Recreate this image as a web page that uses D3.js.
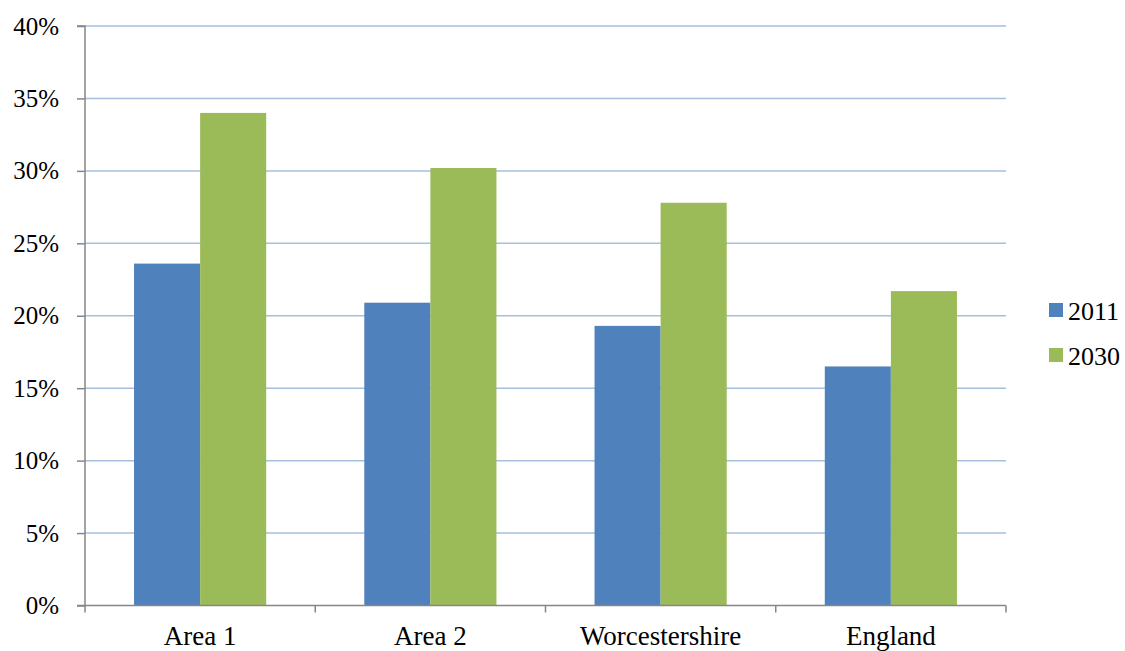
<!DOCTYPE html>
<html>
<head>
<meta charset="utf-8">
<script src="https://cdn.jsdelivr.net/npm/d3@7"></script>
<style>
  html, body { margin: 0; padding: 0; background: #fff; }
  svg text { font-family: "Liberation Serif", "Times New Roman", serif; fill: #000; }
</style>
</head>
<body>
<svg id="chart" width="1125" height="651"></svg>
<script>
// Share of population by area, 2011 vs 2030 projection
const categories = ["Area 1", "Area 2", "Worcestershire", "England"];
const seriesNames = ["2011", "2030"];
const values2011 = [23.6, 20.9, 19.3, 16.5];
const values2030 = [34.0, 30.2, 27.8, 21.7];
const yTicks = [0, 5, 10, 15, 20, 25, 30, 35, 40];

const colors = { "2011": "#4F81BD", "2030": "#9BBB59" };

const svg = d3.select("#chart");
const plotLeft = 85, plotRight = 1006, plotTop = 26, plotBottom = 605.5;

const x = d3.scaleBand().domain(categories).range([plotLeft, plotRight]).paddingInner(0.426).paddingOuter(0.213);
const xs = d3.scaleBand().domain(seriesNames).range([0, x.bandwidth()]);
const y = d3.scaleLinear().domain([0, 40]).range([plotBottom, plotTop]);

// horizontal gridlines
svg.append("g").selectAll("line").data(yTicks.filter(d => d > 0)).join("line")
  .attr("x1", plotLeft).attr("x2", plotRight)
  .attr("y1", d => y(d)).attr("y2", d => y(d))
  .attr("stroke", "#A6BFDC").attr("stroke-width", 1.5);

// bars
const rows = categories.map((c, i) => ({ c, v: { "2011": values2011[i], "2030": values2030[i] } }));
const groups = svg.append("g").selectAll("g").data(rows).join("g")
  .attr("transform", d => `translate(${x(d.c)},0)`);
groups.selectAll("rect").data(d => seriesNames.map(s => ({ s, v: d.v[s] }))).join("rect")
  .attr("x", d => xs(d.s)).attr("width", xs.bandwidth())
  .attr("y", d => y(d.v)).attr("height", d => y(0) - y(d.v))
  .attr("fill", d => colors[d.s]);

// y axis
const yAxis = d3.axisLeft(y).tickValues(yTicks).tickFormat(d => d + "%").tickSize(8).tickPadding(18);
const ya = svg.append("g").attr("transform", `translate(${plotLeft},0)`).call(yAxis);
ya.select(".domain").attr("stroke", "#868686").attr("stroke-width", 1.5).attr("d", `M-8,${plotTop}H0V${plotBottom}H-8`);
ya.selectAll(".tick line").attr("stroke", "#868686").attr("stroke-width", 1.5);
ya.selectAll(".tick text").attr("font-size", 25).attr("font-family", "Liberation Serif").attr("fill", "#000");

// x axis
const xAxis = d3.axisBottom(x).tickSize(0).tickPadding(20);
const xa = svg.append("g").attr("transform", `translate(0,${plotBottom})`).call(xAxis);
xa.select(".domain").attr("stroke", "#868686").attr("stroke-width", 1.5).attr("d", `M${plotLeft},0H${plotRight}`);
xa.selectAll(".tick text").attr("font-size", 27).attr("font-family", "Liberation Serif").attr("fill", "#000");
const bounds = d3.range(categories.length + 1).map(i => plotLeft + i * (plotRight - plotLeft) / categories.length);
svg.append("g").selectAll("line").data(bounds).join("line")
  .attr("x1", d => d).attr("x2", d => d)
  .attr("y1", plotBottom).attr("y2", plotBottom + 7)
  .attr("stroke", "#868686").attr("stroke-width", 1.5);

// legend
const legend = svg.append("g").attr("transform", "translate(1049,303)");
const li = legend.selectAll("g").data(seriesNames).join("g")
  .attr("transform", (d, i) => `translate(0,${i * 45})`);
li.append("rect").attr("width", 14).attr("height", 14).attr("fill", d => colors[d]);
li.append("text").attr("x", 19).attr("y", 17).attr("font-size", 26).text(d => d);
</script>
</body>
</html>
